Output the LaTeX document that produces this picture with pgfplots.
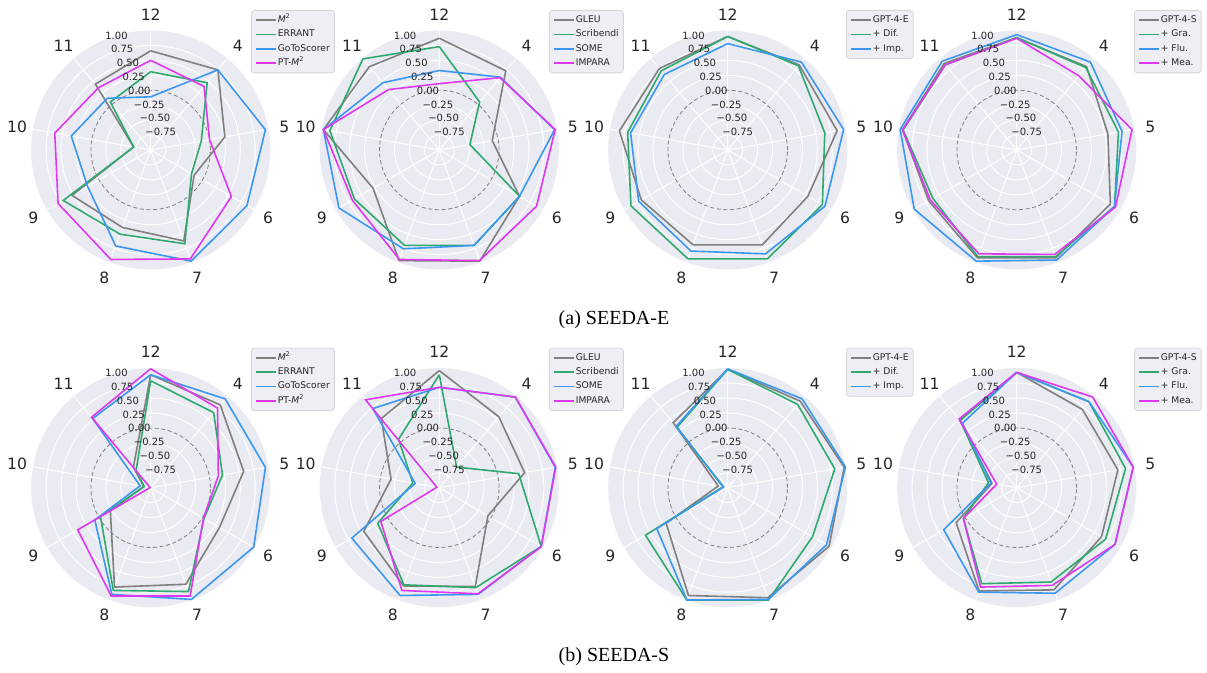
\documentclass[border=0pt]{standalone}
\usepackage{pgfplots}
\pgfplotsset{compat=1.18}
\usepackage{pgfplotstable}
\usepgfplotslibrary{polar}
\usepackage{fontspec}
\setmainfont{DejaVu Sans}
\newfontfamily\capfont{Liberation Serif}
\definecolor{bgc}{RGB}{234,234,242}
\definecolor{txt}{RGB}{38,38,38}
\definecolor{cgray}{RGB}{128,128,128}
\definecolor{cgreen}{RGB}{46,170,110}
\definecolor{cblue}{RGB}{58,152,240}
\definecolor{cmag}{RGB}{222,56,240}
\definecolor{legbg}{RGB}{238,238,244}
\definecolor{legedge}{RGB}{214,214,214}

% angle: 12=90, 4=50, 5=10, 6=330, 7=290, 8=250, 9=210, 10=170, 11=130
\pgfplotstableread{
ang a b c d
90  0.66  0.31 -0.11 0.50
50  0.75  0.47  0.75 0.39
10  0.26 -0.14  0.95 0.00
330 -0.16 -0.21 0.86 0.56
290 0.62  0.67  0.98 0.94
250 0.38  0.50  0.71 0.95
210 0.52  0.69  0.22 0.79
170 -0.71 -0.71 0.35 0.63
130 0.44  0.05  0.13 0.36
90  0.66  0.31 -0.11 0.50
}\tabAa
\pgfplotstableread{
ang a b c d
90  0.87  0.73 0.33 0.11
50  0.73  0.05 0.59 0.58
10  -0.10 -0.48 0.96 0.97
330 0.55  0.55 0.55 0.88
290 0.98  0.70 0.70 0.97
250 0.97  0.70 0.76 0.95
210 0.28  0.64 0.94 0.68
170 0.97  0.86 0.97 0.97
130 0.82  0.99 0.47 0.32
90  0.87  0.73 0.33 0.11
}\tabAb
\pgfplotstableread{
ang a b c
90  0.90 0.90 0.78
50  0.86 0.84 0.92
10  0.86 0.65 0.97
330 0.55 0.83 0.88
290 0.69 0.94 0.85
250 0.69 0.94 0.80
210 0.67 0.87 0.72
170 0.84 0.70 0.65
130 0.78 0.73 0.65
90  0.90 0.90 0.78
}\tabAc
\pgfplotstableread{
ang a b c d
90  0.88 0.88 0.93 0.87
50  0.82 0.80 0.92 0.62
10  0.55 0.73 0.79 0.96
330 0.81 0.89 0.89 0.91
290 0.92 0.90 0.96 0.86
250 0.92 0.90 0.98 0.85
210 0.70 0.62 0.98 0.67
170 0.94 0.93 0.98 0.94
130 0.89 0.86 0.94 0.86
90  0.88 0.88 0.93 0.87
}\tabAd
\pgfplotstableread{
ang a b c d
90  0.89  0.79  0.89  0.99
50  0.81  0.64  0.94  0.74
10  0.58  0.22  0.95  0.15
330 0.33  0.03  0.99  0.02
290 0.72  0.85  0.99  0.93
250 0.77  0.83  0.90  0.93
210 -0.22 -0.03 0.08  0.41
170 -0.88 -0.89 -0.82 -0.99
130 -0.55 -0.62 0.51  0.54
90  0.89  0.79  0.89  0.99
}\tabBa
\pgfplotstableread{
ang a b c d
90  0.96  0.89  0.68  0.68
50  0.55  -0.55 0.98  0.98
10  0.45  0.35  0.97  0.98
330 -0.06 0.97  0.97  0.97
290 0.76  0.78  0.90  0.89
250 0.75  0.73  0.92  0.83
210 0.46  0.19  0.69  0.13
170 -0.18 -0.55 -0.59 -0.96
130 0.51  0.06  0.73  0.92
90  0.96  0.89  0.68  0.68
}\tabBb
\pgfplotstableread{
ang a b c
90  0.98  0.98  0.99
50  0.89  0.82  0.94
10  0.98  0.82  1.00
330 0.96  0.64  0.91
290 0.96  1.00  0.99
250 0.92  1.00  1.00
210 0.19  0.59  0.37
170 -0.84 -0.92 -0.93
130 0.42  0.32  0.34
90  0.98  0.98  0.99
}\tabBc
\pgfplotstableread{
ang a b c d
90  0.93  0.93  0.93  0.93
50  0.71  0.88  0.88  0.98
10  0.72  0.85  0.98  0.98
330 0.64  0.72  0.90  0.90
290 0.82  0.68  0.88  0.74
250 0.84  0.71  0.86  0.77
210 0.17  0.03  0.41  0.03
170 -0.58 -0.52 -0.56 -0.66
130 0.49  0.47  0.41  0.50
90  0.93  0.93  0.93  0.93
}\tabBd

\pgfplotsset{
  radar/.style={
    scale only axis, width=119.5pt, height=119.5pt, anchor=center, clip=false,
    xmin=0, xmax=360, ymin=0, ymax=2,
    xtick={10,50,90,130,170,210,250,290,330}, xticklabels={},
    ytick={0.25,0.5,0.75,1.25,1.5,1.75}, yticklabels={},
    extra y ticks={1}, extra y tick labels={},
    extra y tick style={grid=major, major grid style={draw=cgray, dash pattern=on 2pt off 1.3pt, line width=0.4pt}},
    grid=major, major grid style={draw=white, line width=0.5pt},
    major tick length=0pt,
    axis line style={draw=none},
    y filter/.expression={y+1},
    legend cell align=left,
    legend style={at={(#1,1.0858)}, anchor=north west, fill=legbg, draw=legedge,
      rounded corners=1.5pt, line width=0.4pt, font=\fontsize{4.6}{5.5}\selectfont,
      text=txt, inner xsep=1.8pt, inner ysep=2.2pt, row sep=1.75pt,
      nodes={inner sep=0.5pt, text height=3.4pt, text depth=1pt},
      /tikz/every even column/.append style={column sep=2.6pt}},
    legend image code/.code={\draw[##1, line width=0.9pt] (0pt,0pt) -- (10pt,0pt);},
  },
}
\tikzset{
  anglab/.style={font=\fontsize{7.8}{9}\selectfont, text=txt, inner sep=0pt, anchor=center},
  rlab/.style={font=\fontsize{5}{6}\selectfont, text=txt, inner sep=0pt, anchor=south west},
}
\newcommand{\radarlabels}{%
  \node[anglab] at (axis cs:90,2.27) {12};
  \node[anglab] at (axis cs:50,2.27) {4};
  \node[anglab] at (axis cs:10,2.27) {5};
  \node[anglab] at (axis cs:330,2.27) {6};
  \node[anglab] at (axis cs:290,2.27) {7};
  \node[anglab] at (axis cs:250,2.27) {8};
  \node[anglab] at (axis cs:210,2.27) {9};
  \node[anglab] at (axis cs:170,2.27) {10};
  \node[anglab] at (axis cs:130,2.27) {11};
  \node[rlab] at (axis cs:112.5,2) {1.00};
  \node[rlab] at (axis cs:112.5,1.75) {0.75};
  \node[rlab] at (axis cs:112.5,1.5) {0.50};
  \node[rlab] at (axis cs:112.5,1.25) {0.25};
  \node[rlab] at (axis cs:112.5,1) {0.00};
  \node[rlab] at (axis cs:112.5,0.75) {−0.25};
  \node[rlab] at (axis cs:112.5,0.5) {−0.50};
  \node[rlab] at (axis cs:112.5,0.25) {−0.75};
}
\newcommand{\Mtwo}{\textit{M}\textsuperscript{2}}

\begin{document}
\begin{tikzpicture}
\useasboundingbox (0,0) rectangle (603.5pt,336.5pt);
% backgrounds
\foreach \cx in {75.35,219.65,363.85,508.35}{
  \fill[bgc] (\cx pt,261.5pt) circle[radius=59.75pt];
  \fill[bgc] (\cx pt,92.65pt) circle[radius=59.75pt];
}
% ---- row a ----
\begin{polaraxis}[radar=0.9197, at={(75.35pt,261.5pt)}]
\addplot[cgray, line width=0.8pt, mark=none] table[x=ang,y=a]{\tabAa};
\addplot[cgreen, line width=0.8pt, mark=none] table[x=ang,y=b]{\tabAa};
\addplot[cblue, line width=0.8pt, mark=none] table[x=ang,y=c]{\tabAa};
\addplot[cmag, line width=0.8pt, mark=none] table[x=ang,y=d]{\tabAa};
\legend{\Mtwo, ERRANT, GoToScorer, PT-\Mtwo}
\radarlabels
\end{polaraxis}
\begin{polaraxis}[radar=0.959, at={(219.65pt,261.5pt)}]
\addplot[cgray, line width=0.8pt, mark=none] table[x=ang,y=a]{\tabAb};
\addplot[cgreen, line width=0.8pt, mark=none] table[x=ang,y=b]{\tabAb};
\addplot[cblue, line width=0.8pt, mark=none] table[x=ang,y=c]{\tabAb};
\addplot[cmag, line width=0.8pt, mark=none] table[x=ang,y=d]{\tabAb};
\legend{GLEU, Scribendi, SOME, IMPARA}
\radarlabels
\end{polaraxis}
\begin{polaraxis}[radar=0.995, at={(363.85pt,261.5pt)}]
\addplot[cgray, line width=0.8pt, mark=none] table[x=ang,y=a]{\tabAc};
\addplot[cgreen, line width=0.8pt, mark=none] table[x=ang,y=b]{\tabAc};
\addplot[cblue, line width=0.8pt, mark=none] table[x=ang,y=c]{\tabAc};
\legend{GPT-4-E, + Dif., + Imp.}
\radarlabels
\end{polaraxis}
\begin{polaraxis}[radar=0.991, at={(508.35pt,261.5pt)}]
\addplot[cgray, line width=0.8pt, mark=none] table[x=ang,y=a]{\tabAd};
\addplot[cgreen, line width=0.8pt, mark=none] table[x=ang,y=b]{\tabAd};
\addplot[cblue, line width=0.8pt, mark=none] table[x=ang,y=c]{\tabAd};
\addplot[cmag, line width=0.8pt, mark=none] table[x=ang,y=d]{\tabAd};
\legend{GPT-4-S, + Gra., + Flu., + Mea.}
\radarlabels
\end{polaraxis}
% ---- row b ----
\begin{polaraxis}[radar=0.9197, at={(75.35pt,92.65pt)}]
\addplot[cgray, line width=0.8pt, mark=none] table[x=ang,y=a]{\tabBa};
\addplot[cgreen, line width=0.8pt, mark=none] table[x=ang,y=b]{\tabBa};
\addplot[cblue, line width=0.8pt, mark=none] table[x=ang,y=c]{\tabBa};
\addplot[cmag, line width=0.8pt, mark=none] table[x=ang,y=d]{\tabBa};
\legend{\Mtwo, ERRANT, GoToScorer, PT-\Mtwo}
\radarlabels
\end{polaraxis}
\begin{polaraxis}[radar=0.959, at={(219.65pt,92.65pt)}]
\addplot[cgray, line width=0.8pt, mark=none] table[x=ang,y=a]{\tabBb};
\addplot[cgreen, line width=0.8pt, mark=none] table[x=ang,y=b]{\tabBb};
\addplot[cblue, line width=0.8pt, mark=none] table[x=ang,y=c]{\tabBb};
\addplot[cmag, line width=0.8pt, mark=none] table[x=ang,y=d]{\tabBb};
\legend{GLEU, Scribendi, SOME, IMPARA}
\radarlabels
\end{polaraxis}
\begin{polaraxis}[radar=0.995, at={(363.85pt,92.65pt)}]
\addplot[cgray, line width=0.8pt, mark=none] table[x=ang,y=a]{\tabBc};
\addplot[cgreen, line width=0.8pt, mark=none] table[x=ang,y=b]{\tabBc};
\addplot[cblue, line width=0.8pt, mark=none] table[x=ang,y=c]{\tabBc};
\legend{GPT-4-E, + Dif., + Imp.}
\radarlabels
\end{polaraxis}
\begin{polaraxis}[radar=0.991, at={(508.35pt,92.65pt)}]
\addplot[cgray, line width=0.8pt, mark=none] table[x=ang,y=a]{\tabBd};
\addplot[cgreen, line width=0.8pt, mark=none] table[x=ang,y=b]{\tabBd};
\addplot[cblue, line width=0.8pt, mark=none] table[x=ang,y=c]{\tabBd};
\addplot[cmag, line width=0.8pt, mark=none] table[x=ang,y=d]{\tabBd};
\legend{GPT-4-S, + Gra., + Flu., + Mea.}
\radarlabels
\end{polaraxis}
% captions
\node[font=\capfont\fontsize{10}{12}\selectfont, text=black] at (307pt,176.5pt) {(a) SEEDA-E};
\node[font=\capfont\fontsize{10}{12}\selectfont, text=black] at (307pt,8pt) {(b) SEEDA-S};
\end{tikzpicture}
\end{document}
